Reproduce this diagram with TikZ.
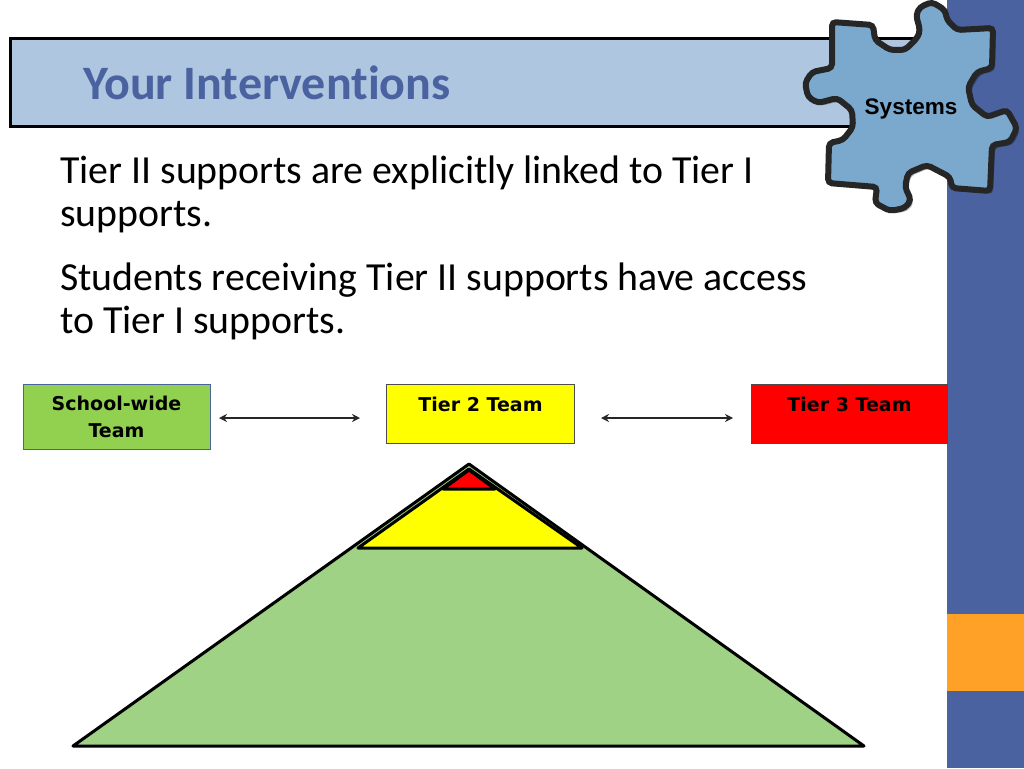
\documentclass[tikz,border=0pt]{standalone}
\usepackage{fontspec}
\setmainfont[Ligatures=CommonOff]{Carlito}
\newfontfamily\teamfont{DejaVu Sans}
\newfontfamily\puzzlefont{Liberation Sans}
\usetikzlibrary{arrows.meta}
\definecolor{barblue}{HTML}{4A62A0}
\definecolor{barorange}{HTML}{FFA126}
\definecolor{headblue}{HTML}{AEC6DF}
\definecolor{puzzleblue}{HTML}{7BA9CE}
\definecolor{schoolgreen}{HTML}{92D050}
\definecolor{baseGreen}{HTML}{9FD284}
\definecolor{tieryellow}{HTML}{FFFF00}
\definecolor{tierred}{HTML}{FF0000}
\tikzset{
	teambox/.style={draw=#1,line width=1pt,anchor=north west,inner xsep=0pt,inner ysep=0pt,align=center,font=\teamfont\bfseries\fontsize{19}{27}\selectfont},
	bodytext/.style={anchor=north west,inner sep=0pt,align=left,font=\fontsize{39.8}{43}\selectfont},
	tierline/.style={draw=black,line width=3pt,line join=round},
	linkarrow/.style={<->,>={Stealth[length=8pt,width=8pt]},line width=1.2pt,draw=black!85}
}
\begin{document}
\begin{tikzpicture}[x=1pt,y=-1pt]
	\useasboundingbox (0,0) rectangle (1024,768);
	\fill[barblue] (947,0) rectangle (1024,768); %side bar
	\fill[barorange] (947,614) rectangle (1024,691);
	\draw[fill=headblue,line width=3pt] (10,39) rectangle (915,126); %title bar
	\node[anchor=base west,inner sep=0pt,text=barblue,font=\bfseries\fontsize{48}{50}\selectfont] (title) at (83,99) {Your Interventions};
	\node[bodytext] (para1) at (60,156) {Tier II supports are explicitly linked to Tier I\\supports.};
	\node[bodytext] (para2) at (60,263) {Students receiving Tier II supports have access\\to Tier I supports.};
	% puzzle piece
	\path[fill=black,opacity=.25,rounded corners=4pt,shift={(3,3)}] (832,22)--(873,25)--(875,40)--(890,50)--(905,50)--(918,37)--(920,30)--(916,15)--(920,7)--(932,2)--(945,10)--(947,20)--(957,30)--(993,28)--(992,68)--(977,72)--(968,87)--(972,105)--(987,117)--(1007,110)--(1017,128)--(1010,142)--(992,145)--(990,191)--(952,188)--(950,177)--(927,165)--(908,173)--(905,187)--(911,200)--(905,208)--(890,211)--(875,203)--(877,187)--(828,183)--(829,143)--(843,140)--(853,127)--(852,110)--(837,98)--(818,103)--(808,97)--(805,83)--(812,72)--(832,68)--cycle;
	\draw[fill=puzzleblue,draw=black!85,line width=6pt,rounded corners=4pt] (832,22)--(873,25)--(875,40)--(890,50)--(905,50)--(918,37)--(920,30)--(916,15)--(920,7)--(932,2)--(945,10)--(947,20)--(957,30)--(993,28)--(992,68)--(977,72)--(968,87)--(972,105)--(987,117)--(1007,110)--(1017,128)--(1010,142)--(992,145)--(990,191)--(952,188)--(950,177)--(927,165)--(908,173)--(905,187)--(911,200)--(905,208)--(890,211)--(875,203)--(877,187)--(828,183)--(829,143)--(843,140)--(853,127)--(852,110)--(837,98)--(818,103)--(808,97)--(805,83)--(812,72)--(832,68)--cycle;
	\node[font=\puzzlefont\bfseries\fontsize{22.5}{24}\selectfont,inner sep=0pt] (systems) at (911,109) {Systems};
	% team boxes
	\node[teambox=barblue,fill=schoolgreen,minimum width=187pt,minimum height=65pt] (school) at (22.5,384) {School-wide\\Team};
	\node[teambox=black!70,fill=tieryellow,minimum width=188pt,text height=27pt,text depth=32pt] (tiertwo) at (386,384) {Tier 2 Team};
	\node[teambox=black!70,fill=tierred,minimum width=196pt,text height=27pt,text depth=32pt] (tierthree) at (751,384) {Tier 3 Team};
	\coordinate (linkA) at (219,418);
	\coordinate (linkB) at (360,418);
	\coordinate (linkC) at (601,418);
	\coordinate (linkD) at (733,418);
	\draw[linkarrow] (linkA)--(linkB);
	\draw[linkarrow] (linkC)--(linkD);
	% pyramid
	\draw[tierline,fill=baseGreen] (469,464)--(864,746)--(73,746)--cycle;
	\draw[tierline,fill=tieryellow] (469,469)--(582,548)--(358,548)--cycle;
	\draw[tierline,fill=tierred] (469,470)--(495,489)--(443,489)--cycle;
\end{tikzpicture}
\end{document}
